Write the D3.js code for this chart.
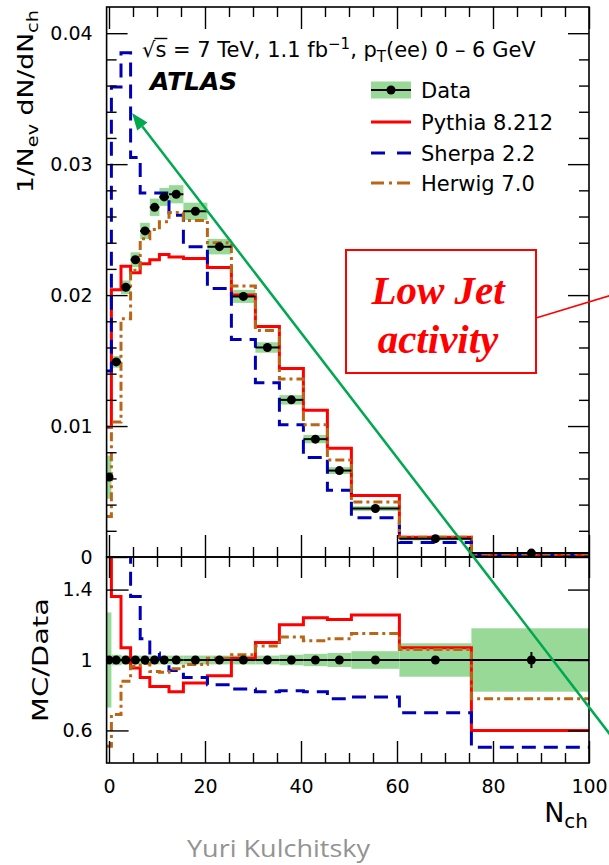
<!DOCTYPE html>
<html>
<head>
<meta charset="utf-8">
<script src="https://cdn.jsdelivr.net/npm/d3@7"></script>
<style>
  html, body { margin: 0; padding: 0; background: #fff; }
  svg { display: block; }
</style>
</head>
<body>
<svg id="chart" width="609" height="865"></svg>
<script>
// ---- N_ch binning (bin edges and centres) ----
const binEdges   = [-0.5, 0.5, 2.5, 4.5, 6.5, 8.5, 10.5, 12.5, 15.5, 20.5, 25.5, 30.5, 35.5, 40.5, 45.5, 50.5, 60.5, 75.5, 100.5];
const binCentres = [0, 1.5, 3.5, 5.5, 7.5, 9.5, 11.5, 14, 18, 23, 28, 33, 38, 43, 48, 55.5, 68, 88];

// ---- 1/N_ev dN/dN_ch ----
const dataValues   = [0.0061, 0.0149, 0.0206, 0.0227, 0.0249, 0.0267, 0.0275, 0.0277, 0.0264, 0.0237, 0.0199, 0.0160, 0.0120, 0.0090, 0.0066, 0.0037, 0.0014, 0.0003];
const pythiaValues = [0.0099, 0.0204, 0.0222, 0.0217, 0.0224, 0.0227, 0.0231, 0.0229, 0.0228, 0.0221, 0.0200, 0.0176, 0.0144, 0.0112, 0.0083, 0.0047, 0.0015, 0.0002];
const sherpaValues = [0.0142, 0.0359, 0.0385, 0.0305, 0.0278, 0.0278, 0.0278, 0.0261, 0.0237, 0.0205, 0.0166, 0.0133, 0.0101, 0.0076, 0.0051, 0.0030, 0.0011, 0.00015];
const herwigValues = [0.0031, 0.0103, 0.0182, 0.0219, 0.0243, 0.0250, 0.0256, 0.0263, 0.0257, 0.0240, 0.0207, 0.0173, 0.0136, 0.0101, 0.0074, 0.0042, 0.0015, 0.00023];

// relative uncertainties of the data (total band, statistical bar)
const dataSystRel = [0.27, 0.03, 0.025, 0.025, 0.025, 0.025, 0.025, 0.025, 0.025, 0.025, 0.025, 0.025, 0.03, 0.035, 0.04, 0.05, 0.095, 0.18];
const dataStatRel = [0.02, 0.01, 0.005, 0.005, 0.005, 0.005, 0.005, 0.005, 0.005, 0.005, 0.005, 0.006, 0.007, 0.008, 0.01, 0.012, 0.02, 0.045];

// ---- MC/Data ----
const pythiaRatio = [1.62, 1.36, 1.07, 0.955, 0.90, 0.85, 0.85, 0.82, 0.87, 0.91, 1.01, 1.10, 1.20, 1.24, 1.23, 1.255, 1.07, 0.60];
const sherpaRatio = [2.33, 2.41, 1.87, 1.36, 1.12, 1.04, 1.01, 0.94, 0.90, 0.86, 0.835, 0.82, 0.825, 0.82, 0.78, 0.79, 0.70, 0.505];
const herwigRatio = [0.51, 0.69, 0.88, 0.965, 0.98, 0.935, 0.93, 0.95, 0.975, 1.01, 1.03, 1.08, 1.13, 1.11, 1.12, 1.15, 1.06, 0.78];

// ---- axis ticks ----
const xMajorTicks   = [0, 20, 40, 60, 80, 100];
const xMinorTicks   = [5, 10, 15, 25, 30, 35, 45, 50, 55, 65, 70, 75, 85, 90, 95];
const yTopMajor     = [0, 0.01, 0.02, 0.03, 0.04];
const yTopMinor     = [0.002, 0.004, 0.006, 0.008, 0.012, 0.014, 0.016, 0.018, 0.022, 0.024, 0.026, 0.028, 0.032, 0.034, 0.036, 0.038];
const yRatioMajor   = [0.6, 1, 1.4];

const legendLabels = ["Data", "Pythia 8.212", "Sherpa 2.2", "Herwig 7.0"];

// ---- styling ----
const FONT = "DejaVu Sans";
const RED = "#ff0000", BLUE = "#0000b8", BROWN = "#bb6616", BAND = "#98d998";
const SHERPA_DASH = "14,8", HERWIG_DASH = "9,4,3,4";

const svg = d3.select("#chart");
const frameL = 106.6, frameR = 589, topT = 7, split = 557, ratioB = 763;

const x    = d3.scaleLinear().domain([-0.5, 100]).range([frameL, frameR]);
const yTop = d3.scaleLinear().domain([0, 0.042]).range([split, topT]);
const yRat = d3.scaleLinear().domain([0.415, 1.585]).range([ratioB, split]);

const defs = svg.append("defs");
defs.append("clipPath").attr("id", "clipTop").append("rect")
  .attr("x", frameL).attr("y", topT).attr("width", frameR - frameL).attr("height", split - topT);
defs.append("clipPath").attr("id", "clipRatio").append("rect")
  .attr("x", frameL).attr("y", split).attr("width", frameR - frameL).attr("height", ratioB - split);

function stepPoints(vals) {
  const pts = [];
  vals.forEach((v, i) => { pts.push([binEdges[i], v]); pts.push([binEdges[i + 1], v]); });
  return pts;
}

function drawPanel(yScale, clipId, data, syst, stat, curves) {
  const g = svg.append("g").attr("clip-path", `url(#${clipId})`);
  const line = d3.line().x(d => x(d[0])).y(d => yScale(d[1]));

  // data uncertainty band
  g.selectAll("rect.band").data(data).join("rect")
    .attr("x", (d, i) => x(binEdges[i]))
    .attr("width", (d, i) => x(binEdges[i + 1]) - x(binEdges[i]))
    .attr("y", (d, i) => yScale(d * (1 + syst[i])))
    .attr("height", (d, i) => yScale(d * (1 - syst[i])) - yScale(d * (1 + syst[i])))
    .attr("fill", BAND);

  // MC predictions
  curves.forEach(c => {
    g.append("path").attr("d", line(stepPoints(c.vals)))
      .attr("fill", "none").attr("stroke", c.color).attr("stroke-width", 3)
      .attr("stroke-dasharray", c.dash || null);
  });

  // data points with error bars
  const pts = g.append("g");
  data.forEach((d, i) => {
    pts.append("line")
      .attr("x1", x(binEdges[i])).attr("x2", x(binEdges[i + 1]))
      .attr("y1", yScale(d)).attr("y2", yScale(d))
      .attr("stroke", "#000").attr("stroke-width", 2);
    pts.append("line")
      .attr("x1", x(binCentres[i])).attr("x2", x(binCentres[i]))
      .attr("y1", yScale(d * (1 + stat[i]))).attr("y2", yScale(d * (1 - stat[i])))
      .attr("stroke", "#000").attr("stroke-width", 2);
    pts.append("circle")
      .attr("cx", x(binCentres[i])).attr("cy", yScale(d)).attr("r", 4.5)
      .attr("fill", "#000");
  });
}

// upper panel
drawPanel(yTop, "clipTop", dataValues, dataSystRel, dataStatRel, [
  { vals: pythiaValues, color: RED },
  { vals: sherpaValues, color: BLUE, dash: SHERPA_DASH },
  { vals: herwigValues, color: BROWN, dash: HERWIG_DASH }
]);

// ratio panel
const ones = dataValues.map(() => 1);
drawPanel(yRat, "clipRatio", ones, dataSystRel, dataStatRel, [
  { vals: pythiaRatio, color: RED },
  { vals: sherpaRatio, color: BLUE, dash: SHERPA_DASH },
  { vals: herwigRatio, color: BROWN, dash: HERWIG_DASH }
]);

// ---- axes ----
function axis(gen, tx, ty) {
  const g = svg.append("g").attr("transform", `translate(${tx},${ty})`).call(gen);
  g.select(".domain").remove();
  g.selectAll(".tick line").attr("stroke", "#000").attr("stroke-width", 1.4);
  g.selectAll("text").attr("font-family", FONT).attr("font-size", 19).attr("fill", "#000");
  return g;
}
const fmtTop = d => d === 0 ? "0" : d3.format(".2f")(d);

// upper panel
axis(d3.axisLeft(yTop).tickValues(yTopMajor).tickSize(-21).tickPadding(14).tickFormat(fmtTop), frameL, 0);
axis(d3.axisLeft(yTop).tickValues(yTopMinor).tickSize(-10).tickFormat(""), frameL, 0);
axis(d3.axisRight(yTop).tickValues(yTopMajor).tickSize(-21).tickFormat(""), frameR, 0);
axis(d3.axisRight(yTop).tickValues(yTopMinor).tickSize(-10).tickFormat(""), frameR, 0);
axis(d3.axisTop(x).tickValues(xMajorTicks).tickSize(-22).tickFormat(""), 0, topT);
axis(d3.axisTop(x).tickValues(xMinorTicks).tickSize(-10).tickFormat(""), 0, topT);
axis(d3.axisBottom(x).tickValues(xMajorTicks).tickSize(-22).tickFormat(""), 0, split);
axis(d3.axisBottom(x).tickValues(xMinorTicks).tickSize(-10).tickFormat(""), 0, split);

// ratio panel
axis(d3.axisTop(x).tickValues(xMajorTicks).tickSize(-21).tickFormat(""), 0, split);
axis(d3.axisTop(x).tickValues(xMinorTicks).tickSize(-10).tickFormat(""), 0, split);
axis(d3.axisBottom(x).tickValues(xMajorTicks).tickSize(-22).tickPadding(17).tickFormat(d => String(d)), 0, ratioB);
axis(d3.axisBottom(x).tickValues(xMinorTicks).tickSize(-10).tickFormat(""), 0, ratioB);
axis(d3.axisLeft(yRat).tickValues(yRatioMajor).tickSize(-22).tickPadding(14).tickFormat(d => String(d)), frameL, 0);
axis(d3.axisRight(yRat).tickValues(yRatioMajor).tickSize(-21).tickFormat(""), frameR, 0);

// frames
[[topT, split], [split, ratioB]].forEach(([a, b]) => {
  svg.append("rect").attr("x", frameL).attr("y", a).attr("width", frameR - frameL).attr("height", b - a)
    .attr("fill", "none").attr("stroke", "#000").attr("stroke-width", 1.6);
});

// ---- axis titles ----
function rotatedTitle(parts, bx, by, length) {
  const t = svg.append("text").attr("font-family", FONT).attr("font-size", 22).attr("fill", "#000");
  parts.forEach(p => {
    t.append("tspan").attr("font-size", p.sub ? 16 : 22).attr("dy", p.dy || 0).text(p.s);
  });
  const w = t.node().getComputedTextLength();
  t.attr("transform", `translate(${bx},${by}) rotate(-90) scale(${length / w},1)`);
}
rotatedTitle([{ s: "1/N" }, { s: "ev", sub: true, dy: 5 }, { s: " dN/dN", dy: -5 }, { s: "ch", sub: true, dy: 5 }], 33, 193, 183);
rotatedTitle([{ s: "MC/Data" }], 48, 722, 124);

const xt = svg.append("text").attr("x", 588).attr("y", 822).attr("text-anchor", "end")
  .attr("font-family", FONT).attr("fill", "#000");
xt.append("tspan").attr("font-size", 27).text("N");
xt.append("tspan").attr("font-size", 20).attr("dy", 6).text("ch");

// ---- header ----
const header = svg.append("text").attr("x", 142).attr("y", 57)
  .attr("font-family", FONT).attr("font-size", 21).attr("fill", "#000");
header.append("tspan").text("\u221As = 7 TeV, 1.1 fb");
header.append("tspan").attr("font-size", 15).attr("dy", -8).text("\u22121");
header.append("tspan").attr("dy", 8).text(", p");
header.append("tspan").attr("font-size", 15).attr("dy", 5).text("T");
header.append("tspan").attr("dy", -5).text("(ee) 0 \u2013 6 GeV");
{
  const n = header.node();
  const s0 = n.getStartPositionOfChar(1).x, s1 = n.getEndPositionOfChar(1).x;
  svg.append("line").attr("x1", s0 - 1).attr("x2", s1 + 1).attr("y1", 38.5).attr("y2", 38.5)
    .attr("stroke", "#000").attr("stroke-width", 1.4);
}

svg.append("text").attr("x", 150).attr("y", 90)
  .attr("font-family", FONT).attr("font-size", 25).attr("font-weight", "bold").attr("font-style", "italic")
  .attr("fill", "#000").text("ATLAS");

// ---- legend ----
const legY = [90, 122, 153, 183];
const lx0 = 371, lx1 = 411;
const leg = svg.append("g");
leg.append("rect").attr("x", lx0).attr("y", legY[0] - 8.5).attr("width", lx1 - lx0).attr("height", 17).attr("fill", BAND);
leg.append("line").attr("x1", lx0).attr("x2", lx1).attr("y1", legY[0]).attr("y2", legY[0]).attr("stroke", "#000").attr("stroke-width", 2);
leg.append("circle").attr("cx", (lx0 + lx1) / 2).attr("cy", legY[0]).attr("r", 4.5).attr("fill", "#000");
[[RED, null], [BLUE, "14,12"], [BROWN, "13,5,3,5"]].forEach(([c, dash], i) => {
  leg.append("line").attr("x1", lx0).attr("x2", lx1).attr("y1", legY[i + 1]).attr("y2", legY[i + 1])
    .attr("stroke", c).attr("stroke-width", 3).attr("stroke-dasharray", dash);
});
legendLabels.forEach((lab, i) => {
  leg.append("text").attr("x", 421).attr("y", legY[i]).attr("dy", "0.36em")
    .attr("font-family", FONT).attr("font-size", 21).attr("fill", "#000").text(lab);
});

// ---- annotation: low jet activity ----
svg.append("line").attr("x1", 536).attr("y1", 318).attr("x2", 612).attr("y2", 295)
  .attr("stroke", RED).attr("stroke-width", 1.5);
svg.append("rect").attr("x", 346).attr("y", 250).attr("width", 190).attr("height", 123)
  .attr("fill", "#fff").attr("stroke", RED).attr("stroke-width", 2);
[["Low Jet", 304], ["activity", 353]].forEach(([s, by]) => {
  svg.append("text").attr("x", 438).attr("y", by).attr("text-anchor", "middle")
    .attr("font-family", "Liberation Serif").attr("font-size", 41)
    .attr("font-weight", "bold").attr("font-style", "italic").attr("fill", RED).text(s);
});

// ---- green arrow ----
{
  const tip = [132, 113], tail = [612, 737];
  const ang = Math.atan2(tail[1] - tip[1], tail[0] - tip[0]);
  const L = 17, Wd = 6.5;
  const bx = tip[0] + L * Math.cos(ang), by = tip[1] + L * Math.sin(ang);
  svg.append("line").attr("x1", tail[0]).attr("y1", tail[1]).attr("x2", bx).attr("y2", by)
    .attr("stroke", "#00a850").attr("stroke-width", 2.5);
  const p1 = [bx + Wd * Math.sin(ang), by - Wd * Math.cos(ang)];
  const p2 = [bx - Wd * Math.sin(ang), by + Wd * Math.cos(ang)];
  svg.append("path").attr("d", `M${tip}L${p1}L${p2}Z`).attr("fill", "#00a850");
}

// ---- author ----
svg.append("text").attr("x", 187).attr("y", 857)
  .attr("font-family", "Open Sans").attr("font-size", 24).attr("fill", "#939393")
  .attr("textLength", 183).attr("lengthAdjust", "spacingAndGlyphs").text("Yuri Kulchitsky");
</script>
</body>
</html>
